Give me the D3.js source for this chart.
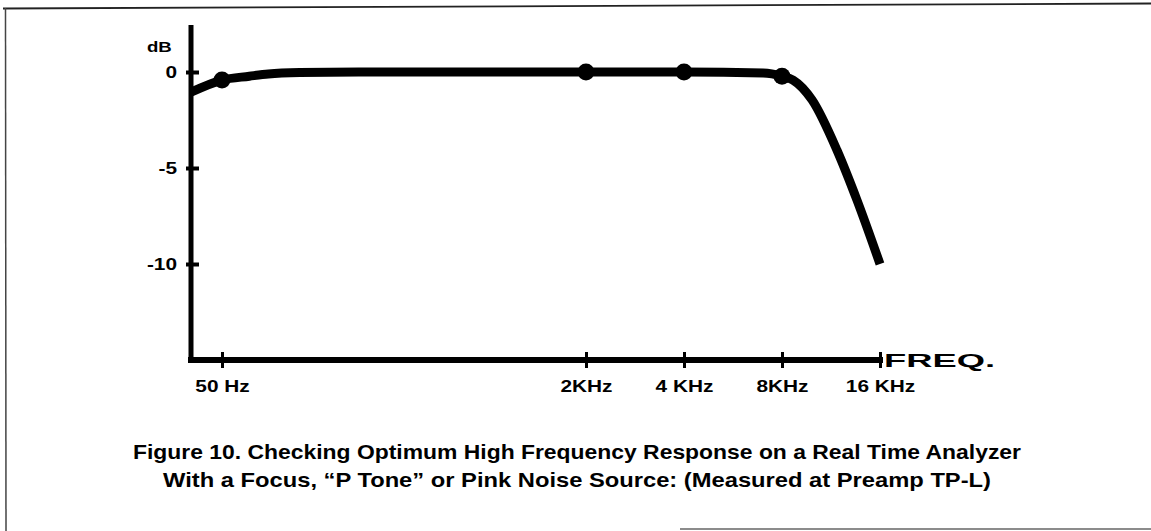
<!DOCTYPE html>
<html>
<head>
<meta charset="utf-8">
<script src="https://cdn.jsdelivr.net/npm/d3@7"></script>
<style>
  html, body { margin: 0; padding: 0; background: #fff; overflow: hidden; }
  svg { display: block; }
  text { font-family: "Liberation Sans", Arial, Helvetica, sans-serif; font-weight: bold; fill: #000; }
</style>
</head>
<body>
<svg id="chart" width="1151" height="531"></svg>
<script>
// ---- data ----
const freqTicks  = [50, 2000, 4000, 8000, 16000];
const freqLabels = ["50 Hz", "2KHz", "4 KHz", "8KHz", "16 KHz"];
const dbTicks    = [0, -5, -10];
const dbLabels   = ["0", "-5", "-10"];

// response curve (Hz, dB)
const curveFreq = [36.5, 50, 66, 80, 110, 200, 2000, 4000, 7000, 8000, 8650, 9900, 11800, 13600, 16000];
const curveDb   = [-1.05, -0.42, -0.22, -0.1, -0.03, 0, 0, 0, -0.05, -0.22, -0.42, -1.46, -4.07, -6.68, -10];

// measured points (dots)
const markerFreq = [50, 2000, 4000, 8000];
const markerDb   = [-0.42, 0, 0, -0.22];

const yLabel = "dB";
const xLabel = "FREQ.";
const captionLines = [
  "Figure 10. Checking Optimum High Frequency Response on a Real Time Analyzer",
  "With a Focus, \u201CP Tone\u201D or Pink Noise Source: (Measured at Preamp TP-L)"
];

// ---- drawing ----
const svg = d3.select("#chart");

// scan frame (top, left, partial bottom)
svg.append("line").attr("x1", 3).attr("y1", 8.5).attr("x2", 1151).attr("y2", 3.5)
  .attr("stroke", "#222").attr("stroke-width", 1.8);
svg.append("line").attr("x1", 5.5).attr("y1", 8).attr("x2", 6).attr("y2", 531)
  .attr("stroke", "#444").attr("stroke-width", 1.5);
svg.append("line").attr("x1", 680).attr("y1", 529).attr("x2", 1151).attr("y2", 529)
  .attr("stroke", "#666").attr("stroke-width", 1.5);

// scales: broken (piecewise) log frequency axis, linear dB axis
const x = d3.scaleLog().domain([36.5, 50, 2000, 16000]).range([191, 222, 586, 880]);
const y = d3.scaleLinear().domain([-15, 0]).range([360, 72]);
const yTop = 25;

const stretch = 1.3; // extended typeface look

function stretchText(sel, factor) {
  sel.each(function () {
    const w = this.getComputedTextLength();
    d3.select(this).attr("textLength", w * factor).attr("lengthAdjust", "spacingAndGlyphs");
  });
}

// Y axis
const yAxis = d3.axisLeft(y).tickValues(dbTicks).tickFormat((d, i) => dbLabels[i]).tickSizeOuter(0);
const gy = svg.append("g").attr("transform", `translate(${x.range()[0]},0)`).call(yAxis);
gy.select(".domain").remove();
gy.selectAll(".tick line").attr("x1", -5).attr("x2", 8).attr("stroke", "#000").attr("stroke-width", 4);
gy.selectAll(".tick text").attr("x", -14).attr("dy", "0.36em")
  .style("font-size", "16px").style("font-family", "'Liberation Sans', Arial, sans-serif").style("font-weight", "bold")
  .attr("fill", "#000");
stretchText(gy.selectAll(".tick text"), stretch);

svg.append("line").attr("x1", x.range()[0]).attr("x2", x.range()[0])
  .attr("y1", yTop).attr("y2", y(-15) + 3).attr("stroke", "#000").attr("stroke-width", 5);

// X axis
const xAxis = d3.axisBottom(x).tickValues(freqTicks).tickFormat((d, i) => freqLabels[i]).tickSizeOuter(0);
const gx = svg.append("g").attr("transform", `translate(0,${y(-15)})`).call(xAxis);
gx.select(".domain").remove();
gx.selectAll(".tick line").attr("y1", -8).attr("y2", 8).attr("stroke", "#000").attr("stroke-width", 3);
gx.selectAll(".tick text").attr("y", 32).attr("dy", 0)
  .style("font-size", "16px").style("font-family", "'Liberation Sans', Arial, sans-serif").style("font-weight", "bold")
  .attr("fill", "#000");
stretchText(gx.selectAll(".tick text"), stretch);

svg.append("line").attr("x1", x.range()[0] - 3).attr("x2", x(16000) + 3)
  .attr("y1", y(-15)).attr("y2", y(-15)).attr("stroke", "#000").attr("stroke-width", 6);

// axis titles
const dbT = svg.append("text").attr("x", 147).attr("y", 52).style("font-size", "14px").text(yLabel);
stretchText(dbT, 1.33);
const fq = svg.append("text").attr("x", 884).attr("y", 366.5).style("font-size", "18px").text(xLabel);
fq.attr("textLength", 111).attr("lengthAdjust", "spacingAndGlyphs");

// response curve
const pts = curveFreq.map((f, i) => [x(f), y(curveDb[i])]);
svg.append("path")
  .attr("d", d3.line().curve(d3.curveMonotoneX)(pts))
  .attr("fill", "none").attr("stroke", "#000").attr("stroke-width", 9)
  .attr("stroke-linejoin", "round").attr("stroke-linecap", "butt");

svg.selectAll("circle.m").data(markerFreq).join("circle").attr("class", "m")
  .attr("cx", d => x(d)).attr("cy", (d, i) => y(markerDb[i])).attr("r", 8.5).attr("fill", "#000");

// caption
const capY = [459, 487];
const capW = [888, 828];
captionLines.forEach((t, i) => {
  svg.append("text").attr("x", 577).attr("y", capY[i]).attr("text-anchor", "middle")
    .style("font-size", "21px").attr("textLength", capW[i]).attr("lengthAdjust", "spacingAndGlyphs")
    .text(t);
});
</script>
</body>
</html>
